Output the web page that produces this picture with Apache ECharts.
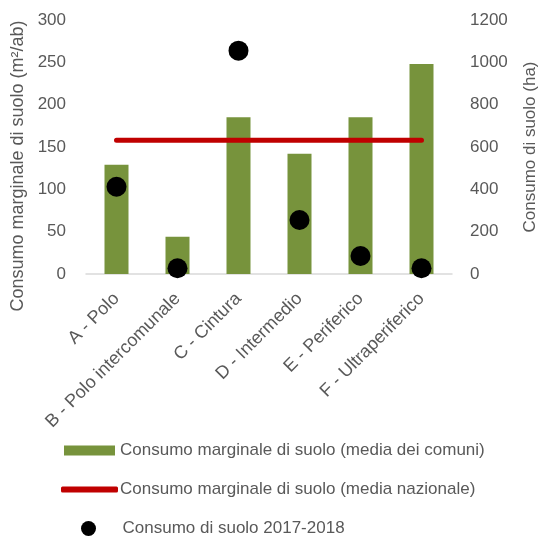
<!DOCTYPE html>
<html><head><meta charset="utf-8">
<script src="https://cdn.jsdelivr.net/npm/echarts@6/dist/echarts.min.js"></script>
<style>html,body{margin:0;padding:0;background:#fff}#c{width:552px;height:537px}</style>
</head><body><div id="c"></div>
<script>
const categories = ['A - Polo','B - Polo intercomunale','C - Cintura','D - Intermedio','E - Periferico','F - Ultraperiferico'];
const mediaComuni = [129, 44, 185, 142, 185, 248];
const mediaNazionale = [158, 158, 158, 158, 158, 158];
const consumoSuolo = [412, 27, 1055, 255, 85, 27];
const leftTicks = {min: 0, max: 300, interval: 50};
const rightTicks = {min: 0, max: 1200, interval: 200};
const names = ['Consumo marginale di suolo (media dei comuni)','Consumo marginale di suolo (media nazionale)','Consumo di suolo 2017-2018'];

const font = 'Liberation Sans, Arial, sans-serif';
const grey = '#595959';
const chart = echarts.init(document.getElementById('c'));
chart.setOption({
  animation: false,
  grid: {left: 86, right: 100, top: 20, bottom: 263, containLabel: false},
  xAxis: {
    type: 'category', data: categories,
    axisLine: {lineStyle: {color: '#D9D9D9', width: 1.5}},
    axisTick: {show: false},
    axisLabel: {rotate: 45, margin: 22, color: grey, fontSize: 18, fontFamily: font, interval: 0}
  },
  yAxis: [
    {type: 'value', min: leftTicks.min, max: leftTicks.max, interval: leftTicks.interval,
     name: 'Consumo marginale di suolo (m²/ab)', nameLocation: 'middle', nameGap: 56,
     nameTextStyle: {color: grey, fontSize: 18, fontFamily: font, padding: [0, 38, 0, 0]},
     axisLine: {show: false}, axisTick: {show: false}, splitLine: {show: false},
     axisLabel: {color: grey, fontSize: 17, fontFamily: font, margin: 20}},
    {type: 'value', min: rightTicks.min, max: rightTicks.max, interval: rightTicks.interval,
     name: 'Consumo di suolo (ha)', nameLocation: 'middle', nameGap: 70, nameRotate: 90,
     nameTextStyle: {color: grey, fontSize: 17, fontFamily: font},
     axisLine: {show: false}, axisTick: {show: false}, splitLine: {show: false},
     axisLabel: {color: grey, fontSize: 17, fontFamily: font, margin: 18, formatter: v => String(v)}}
  ],
  legend: [
    {data: [{name: names[0], icon: 'rect'}], left: 59, top: 437, itemWidth: 51, itemHeight: 10, itemGap: 0,
     textStyle: {color: grey, fontSize: 17, fontFamily: font}},
    {data: [{name: names[1], icon: 'roundRect', itemStyle: {color: '#C00000'}}], left: 56, top: 476, itemWidth: 57, itemHeight: 6, itemGap: 0,
     textStyle: {color: grey, fontSize: 17, fontFamily: font, padding: [0, 0, 0, -3]}},
    {data: [{name: names[2], icon: 'circle'}], left: 76, top: 515, itemWidth: 58, itemHeight: 15, itemGap: 0,
     textStyle: {color: grey, fontSize: 17, fontFamily: font}}
  ],
  series: [
    {name: names[0], type: 'bar', data: mediaComuni, barWidth: 24, itemStyle: {color: '#77933C'}, z: 1},
    {name: names[1], type: 'line', data: mediaNazionale, symbol: 'none', z: 3,
     lineStyle: {color: '#C00000', width: 5, cap: 'round'}, itemStyle: {color: '#C00000'}},
    {name: names[2], type: 'scatter', yAxisIndex: 1, data: consumoSuolo, symbolSize: 20, z: 4,
     itemStyle: {color: '#000000', opacity: 1}}
  ]
});
</script></body></html>
